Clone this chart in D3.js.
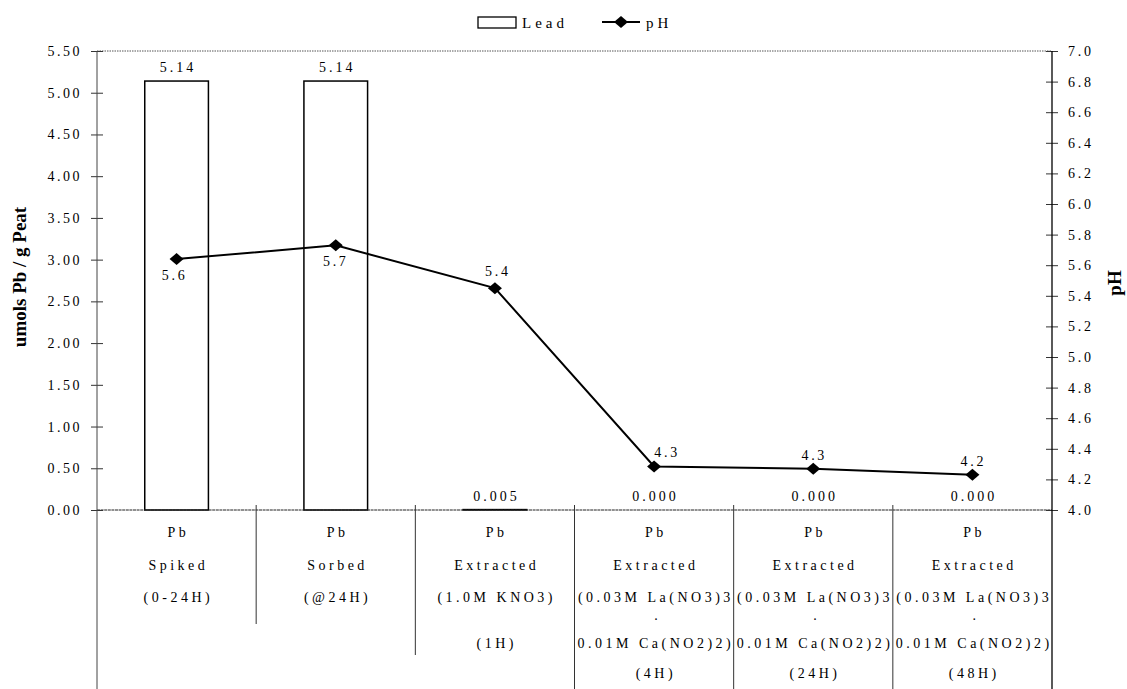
<!DOCTYPE html>
<html>
<head>
<meta charset="utf-8">
<script src="https://cdn.jsdelivr.net/npm/d3@7"></script>
<style>
  html, body { margin: 0; padding: 0; background: #fff; }
  svg { display: block; }
  text { font-family: "Liberation Serif", "DejaVu Serif", serif; fill: #000; }
</style>
</head>
<body>
<svg id="chart" width="1127" height="689"></svg>
<script>
// ---------------- DATA ----------------
const categoryLines = [
  ["Pb", "Spiked", "(0-24H)"],
  ["Pb", "Sorbed", "(@24H)"],
  ["Pb", "Extracted", "(1.0M KNO3)", "", "(1H)"],
  ["Pb", "Extracted", "(0.03M La(NO3)3", ".", "0.01M Ca(NO2)2)", "(4H)"],
  ["Pb", "Extracted", "(0.03M La(NO3)3", ".", "0.01M Ca(NO2)2)", "(24H)"],
  ["Pb", "Extracted", "(0.03M La(NO3)3", ".", "0.01M Ca(NO2)2)", "(48H)"]
];
const categories = categoryLines.map(l => l.filter(s => s && s !== ".").join(" "));
const leadValues = [5.14, 5.14, 0.005, 0.000, 0.000, 0.000];
const leadLabels = ["5.14", "5.14", "0.005", "0.000", "0.000", "0.000"];
const phValues = [5.64, 5.73, 5.45, 4.285, 4.27, 4.23];
const phLabels = ["5.6", "5.7", "5.4", "4.3", "4.3", "4.2"];
const leftTicks = d3.range(0, 5.51, 0.5);
const rightTicks = d3.range(4.0, 7.01, 0.2);
const leftTitle = "umols Pb / g Peat";
const rightTitle = "pH";
const legendNames = ["Lead", "pH"];

// ---------------- LAYOUT ----------------
const W = 1127, H = 689;
const L = 97, R = 1052, T = 51, B = 510;
const svg = d3.select("#chart");

const x = d3.scaleBand().domain(categories).range([L, R]).paddingInner(0).paddingOuter(0);
const yL = d3.scaleLinear().domain([0, 5.5]).range([B, T]);
const yR = d3.scaleLinear().domain([4.0, 7.0]).range([B, T]);

// top border (dotted)
svg.append("line").attr("x1", L).attr("x2", R).attr("y1", T).attr("y2", T)
  .attr("stroke", "#555").attr("stroke-width", 1).attr("stroke-dasharray", "1.5,1");

// bars
const barW = x.bandwidth() * 0.4;
svg.append("g").selectAll("rect").data(categories).join("rect")
  .attr("x", d => x(d) + x.bandwidth() / 2 - barW / 2)
  .attr("y", (d, i) => yL(leadValues[i]))
  .attr("width", barW)
  .attr("height", (d, i) => Math.max(0, B - yL(leadValues[i])))
  .attr("fill", "#fff").attr("stroke", "#000").attr("stroke-width", 1.5);

// bar labels
svg.append("g").selectAll("text").data(categories).join("text")
  .attr("x", d => x(d) + x.bandwidth() / 2 + 1.5)
  .attr("y", (d, i) => yL(leadValues[i]) - 9)
  .attr("text-anchor", "middle")
  .style("font-size", "14px").style("letter-spacing", "3px")
  .text((d, i) => leadLabels[i]);

// baseline
svg.append("line").attr("x1", L).attr("x2", R).attr("y1", B).attr("y2", B)
  .attr("stroke", "#222").attr("stroke-width", 1).attr("stroke-dasharray", "3,0.6");

// left axis
const gL = svg.append("g").attr("transform", `translate(${L},0)`)
  .call(d3.axisLeft(yL).tickValues(leftTicks).tickFormat(d3.format(".2f")).tickSize(6).tickPadding(9));
gL.select(".domain").remove();
gL.selectAll(".tick line").attr("x1", 6).attr("x2", -6).attr("stroke", "#333");
gL.selectAll(".tick text").style("font-size", "14px").style("letter-spacing", "2.5px")
  .style("font-family", "'Liberation Serif', serif").attr("fill", "#000");
svg.append("line").attr("x1", L).attr("x2", L).attr("y1", T).attr("y2", H)
  .attr("stroke", "#444").attr("stroke-width", 1);

// right axis
const gR = svg.append("g").attr("transform", `translate(${R},0)`)
  .call(d3.axisRight(yR).tickValues(rightTicks).tickFormat(d3.format(".1f")).tickSize(6).tickPadding(10));
gR.select(".domain").remove();
gR.selectAll(".tick line").attr("x1", -6).attr("x2", 6).attr("stroke", "#333");
gR.selectAll(".tick text").style("font-size", "14px").style("letter-spacing", "2.7px")
  .style("font-family", "'Liberation Serif', serif").attr("fill", "#000");
svg.append("line").attr("x1", R).attr("x2", R).attr("y1", T).attr("y2", H)
  .attr("stroke", "#000").attr("stroke-width", 1.3);

// category table dividers
const bottomFor = {3: 624, 5: 655, 6: H};
for (let i = 1; i < categories.length; i++) {
  const n = Math.max(categoryLines[i - 1].length, categoryLines[i].length);
  svg.append("line").attr("x1", x(categories[i])).attr("x2", x(categories[i]))
    .attr("y1", B - 5).attr("y2", bottomFor[n])
    .attr("stroke", "#333").attr("stroke-width", 1);
}

// category labels
const lineY = [537, 569.5, 602, 620, 648, 678];
const catG = svg.append("g");
categoryLines.forEach((lines, i) => {
  lines.forEach((s, j) => {
    if (!s) return;
    catG.append("text")
      .attr("x", x(categories[i]) + x.bandwidth() / 2 + 1.8)
      .attr("y", lineY[j])
      .attr("text-anchor", "middle")
      .style("font-size", "14px").style("letter-spacing", s === "." ? "0px" : "3.5px")
      .attr("fill", s === "." ? "#999" : "#000")
      .text(s);
  });
});

// pH line
const line = d3.line().x((d, i) => x(categories[i]) + x.bandwidth() / 2).y(d => yR(d));
svg.append("path").datum(phValues).attr("d", line)
  .attr("fill", "none").attr("stroke", "#000").attr("stroke-width", 2);
const diamond = "M0,-6L7,0L0,6L-7,0Z";
svg.append("g").selectAll("path").data(phValues).join("path")
  .attr("d", diamond)
  .attr("transform", (d, i) => `translate(${x(categories[i]) + x.bandwidth() / 2},${yR(d)})`)
  .attr("fill", "#000");
// pH labels: first two below, rest above
const phDy = [21, 21, -12, -9, -9, -9];
const phDx = [-2, 0, 3, 13, 1, 1];
svg.append("g").selectAll("text").data(phValues).join("text")
  .attr("x", (d, i) => x(categories[i]) + x.bandwidth() / 2 + phDx[i])
  .attr("y", (d, i) => yR(d) + phDy[i])
  .attr("text-anchor", "middle")
  .style("font-size", "14px").style("letter-spacing", "2.7px")
  .text((d, i) => phLabels[i]);

// axis titles
svg.append("text").attr("transform", "translate(26,277) rotate(-90)")
  .attr("text-anchor", "middle")
  .style("font-size", "19px").style("font-weight", "bold")
  .text(leftTitle);
svg.append("text").attr("transform", "translate(1121,283) rotate(-90)")
  .attr("text-anchor", "middle")
  .style("font-size", "19px").style("font-weight", "bold")
  .text(rightTitle);

// legend
const lg = svg.append("g");
lg.append("rect").attr("x", 478).attr("y", 17).attr("width", 38).attr("height", 11)
  .attr("fill", "#fff").attr("stroke", "#000").attr("stroke-width", 1.3);
lg.append("text").attr("x", 522).attr("y", 28).style("font-size", "15px").style("letter-spacing", "4px")
  .text(legendNames[0]);
lg.append("line").attr("x1", 602).attr("x2", 640).attr("y1", 22).attr("y2", 22)
  .attr("stroke", "#000").attr("stroke-width", 2);
lg.append("path").attr("d", diamond).attr("transform", "translate(621,22)").attr("fill", "#000");
lg.append("text").attr("x", 646).attr("y", 28).style("font-size", "15px").style("letter-spacing", "4px")
  .text(legendNames[1]);
</script>
</body>
</html>
